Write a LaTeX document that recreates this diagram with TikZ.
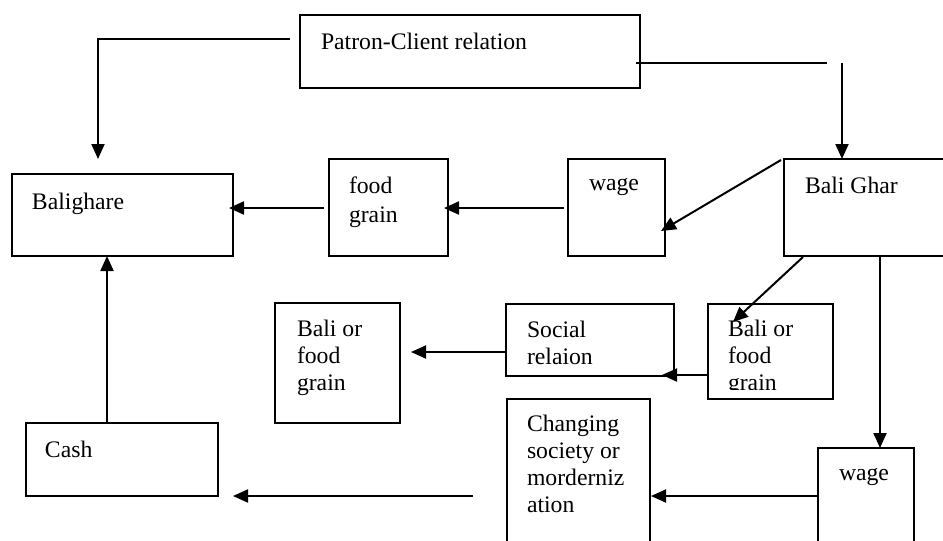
\documentclass[tikz,border=0pt]{standalone}
\usepackage{fontspec}
\setmainfont{Liberation Serif}
\usetikzlibrary{arrows.meta,calc}
\begin{document}
\begin{tikzpicture}[x=0.5pt,y=-0.5pt,
  box/.style={draw, line width=1.1pt, rectangle, anchor=north west, inner sep=0pt, outer sep=0pt},
  lbl/.style={anchor=base west, inner sep=0pt, outer sep=0pt, align=left, font=\fontsize{11.85pt}{13.4pt}\selectfont},
  conn/.style={line width=1pt},
  arr/.style={conn, -{Triangle[length=7.5pt,width=6.5pt]}}]
\clip (0,0) rectangle (943,541);
\fill[white] (0,0) rectangle (943,541);
% boxes
\node[box, minimum width=170pt, minimum height=36.5pt] (pc) at (300,15) {};
\node[box, minimum width=110.5pt, minimum height=41pt] (bg) at (12,174) {};
\node[box, minimum width=59.5pt, minimum height=48.5pt] (fg) at (329,159) {};
\node[box, minimum width=48.5pt, minimum height=48.5pt] (wg1) at (568,159) {};
\node[box, minimum width=85pt, minimum height=48.5pt] (bgh) at (784,159) {};
\node[box, minimum width=62.5pt, minimum height=47.5pt] (bf2) at (708,304) {};
\node[box, minimum width=84pt, minimum height=36pt] (sr) at (506,304) {};
\node[box, minimum width=62.5pt, minimum height=60pt] (bf1) at (275,303) {};
\node[box, minimum width=71.5pt, minimum height=80.5pt] (cs) at (507,399) {};
\node[box, minimum width=48pt, minimum height=56pt] (wg2) at (818,448) {};
\node[box, minimum width=96pt, minimum height=36.5pt] (cash) at (26,423) {};
% texts (anchor = baseline of the last line)
\node[lbl] (tpc) at (321,49) {Patron-Client relation};
\node[lbl] (tbg) at (32,209) {Balighare};
\node[lbl, font=\fontsize{11.85pt}{14.5pt}\selectfont] (tfg) at (349,222) {food\\grain};
\node[lbl] (twg1) at (589,190) {wage};
\node[lbl] (tbgh) at (805,193) {Bali Ghar};
\begin{scope}
\clip (708,304) rectangle (833,389);
\node[lbl] (tbf2) at (728,390) {Bali or\\food\\grain};
\end{scope}
\node[lbl] (tsr) at (527,364) {Social\\relaion};
\node[lbl] (tbf1) at (297,390) {Bali or\\food\\grain};
\node[lbl] (tcs) at (527,512) {Changing\\society or\\morderniz\\ation};
\node[lbl] (twg2) at (839,480) {wage};
\node[lbl] (tcash) at (45,457) {Cash};
% connector end points
\coordinate (pcL) at (290,39);
\coordinate (bendL) at (98,39);
\coordinate (tipL) at (98,159);
\coordinate (pcR) at (636,63);
\coordinate (endR) at (827,63);
\coordinate (topR) at (842,63);
\coordinate (bghA) at (781,160);
\coordinate (wg1tip) at (661,231);
\coordinate (wg1L) at (564,208);
\coordinate (fgtip) at (444,208);
\coordinate (fgL) at (324,208);
\coordinate (bgtip) at (229,208);
\coordinate (bghB) at (803,257);
\coordinate (bf2tip) at (733,322);
\coordinate (bf2L) at (708,375);
\coordinate (srtip) at (662,375);
\coordinate (srL) at (505,352);
\coordinate (bf1tip) at (411,352);
\coordinate (bghC) at (880,256);
\coordinate (wg2tip) at (880,448);
\coordinate (wg2L) at (818,496);
\coordinate (cstip) at (651,496);
\coordinate (freeA) at (473,496);
\coordinate (freeB) at (233,496);
\coordinate (cashT) at (107,423);
\coordinate (bgB) at (107,256);
% connectors
\draw[arr] (pcL) -- (bendL) -- (tipL);
\draw[conn] (pcR) -- (endR);
\draw[arr] (topR) -- (bgh.north west -| topR);
\draw[arr] (bghA) -- (wg1tip);
\draw[arr] (wg1L) -- (fgtip);
\draw[arr] (fgL) -- (bgtip);
\draw[arr] (bghB) -- (bf2tip);
\draw[arr] (bf2L) -- (srtip);
\draw[arr] (srL) -- (bf1tip);
\draw[arr] (bghC) -- (wg2tip);
\draw[arr] (wg2L) -- (cstip);
\draw[arr] (freeA) -- (freeB);
\draw[arr] (cashT) -- (bgB);
\end{tikzpicture}
\end{document}
